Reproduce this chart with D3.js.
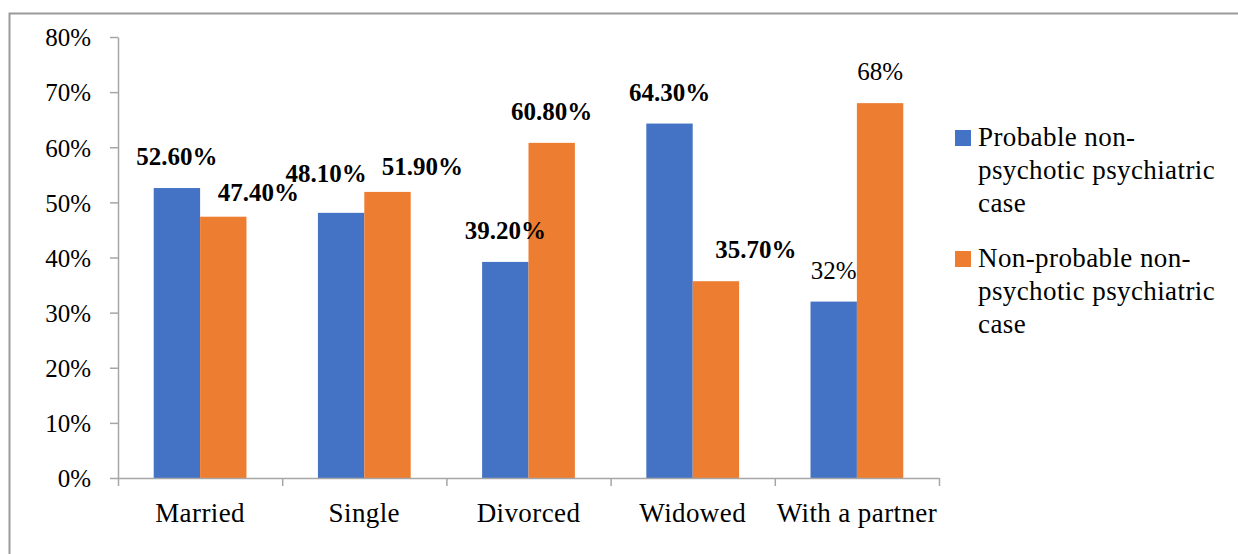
<!DOCTYPE html>
<html>
<head>
<meta charset="utf-8">
<script src="https://cdn.jsdelivr.net/npm/d3@7"></script>
<style>
  body { margin: 0; background: #fff; }
  svg { display: block; }
</style>
</head>
<body>
<script>
// values (percent)
var categories = ["Married", "Single", "Divorced", "Widowed", "With a partner"]
var seriesNames = ["Probable non-psychotic psychiatric case", "Non-probable non-psychotic psychiatric case"]
var probable = [52.6, 48.1, 39.2, 64.3, 32]
var nonProbable = [47.4, 51.9, 60.8, 35.7, 68]
var yTicks = [0, 10, 20, 30, 40, 50, 60, 70, 80]
var legendLines = [["Probable non-", "psychotic psychiatric", "case"],
                   ["Non-probable non-", "psychotic psychiatric", "case"]]

function main() {
  var W = 1238, H = 554
  var colors = ["#4472C4", "#ED7D31"]
  var font = "'Liberation Serif', 'Times New Roman', serif"

  var svg = d3.select("body").append("svg")
              .attr("width", W)
              .attr("height", H)
              .style("font-family", font)

  // outer frame (runs off the right and bottom edge)
  svg.append("rect")
     .attr("x", 9.5).attr("y", 13.5)
     .attr("width", W).attr("height", H)
     .attr("fill", "none")
     .attr("stroke", "#9a9a9a")
     .attr("stroke-width", 2)

  var x0 = 118, x1 = 939, yTop = 37, yBot = 478

  var x = d3.scaleBand().domain(categories).range([x0, x1])
  var xs = d3.scaleBand().domain(seriesNames).range([0, x.bandwidth()])
             .paddingInner(0).paddingOuter(0.77)
  var y = d3.scaleLinear().domain([0, 80]).range([yBot, yTop])

  // bars
  var rows = categories.map(function (c, i) {
    return { cat: c, i: i, vals: [probable[i], nonProbable[i]] }
  })
  var groups = svg.selectAll("g.cat").data(rows).enter()
                  .append("g").attr("class", "cat")
                  .attr("transform", function (d) { return "translate(" + x(d.cat) + ",0)" })

  groups.selectAll("rect").data(function (d) {
      return d.vals.map(function (v, k) { return { v: v, k: k, i: d.i } })
    }).enter().append("rect")
    .attr("x", function (d) { return xs(seriesNames[d.k]) })
    .attr("width", xs.bandwidth())
    .attr("y", function (d) { return y(d.v) })
    .attr("height", function (d) { return y(0) - y(d.v) })
    .attr("fill", function (d) { return colors[d.k] })

  // value labels (a few were dragged aside in the original)
  var nudge = { "0-1": [35, 7], "1-0": [-15, -8], "1-1": [35, 6], "3-1": [40, 0] }
  groups.selectAll("text.val").data(function (d) {
      return d.vals.map(function (v, k) { return { v: v, k: k, i: d.i } })
    }).enter().append("text").attr("class", "val")
    .attr("x", function (d) {
      var n = nudge[d.i + "-" + d.k] || [0, 0]
      return xs(seriesNames[d.k]) + xs.bandwidth() / 2 + n[0]
    })
    .attr("y", function (d) {
      var n = nudge[d.i + "-" + d.k] || [0, 0]
      return y(d.v) - 23 + n[1]
    })
    .attr("text-anchor", "middle")
    .style("font-size", "25px")
    .style("font-weight", function (d) { return d.v % 1 === 0 ? "normal" : "bold" })
    .attr("fill", "#000")
    .text(function (d) { return d.v % 1 === 0 ? d.v + "%" : d.v.toFixed(2) + "%" })

  // y axis
  var yAxis = svg.append("g")
     .attr("transform", "translate(" + x0 + ",0)")
     .call(d3.axisLeft(y).tickValues(yTicks).tickSize(8).tickSizeOuter(0).tickPadding(19)
             .tickFormat(function (d) { return d + "%" }))
  yAxis.selectAll("text").style("font-size", "25px").style("font-family", font)
       .attr("fill", "#000").attr("dy", "0.35em")

  // x axis with ticks on the category boundaries
  var xb = d3.scaleLinear().domain([0, categories.length]).range([x0, x1])
  var xAxis = svg.append("g")
     .attr("transform", "translate(0," + yBot + ")")
     .call(d3.axisBottom(xb).tickValues(d3.range(categories.length + 1))
             .tickSize(8).tickSizeOuter(0).tickFormat(""))

  svg.selectAll(".domain, .tick line").attr("stroke", "#a6a6a6").attr("stroke-width", 1.5)

  svg.append("g").selectAll("text").data(categories).enter()
     .append("text")
     .attr("x", function (d) { return x(d) + x.bandwidth() / 2 })
     .attr("y", 522)
     .attr("text-anchor", "middle")
     .style("font-size", "27px")
     .style("letter-spacing", "0.4px")
     .attr("fill", "#000")
     .text(function (d) { return d })

  // legend
  var leg = svg.append("g").selectAll("g").data(legendLines).enter()
               .append("g")
               .attr("transform", function (d, i) { return "translate(955," + (130 + i * 121) + ")" })
  leg.append("rect").attr("width", 16).attr("height", 16)
     .attr("fill", function (d, i) { return colors[i] })
  leg.each(function (lines) {
    d3.select(this).selectAll("text").data(lines).enter()
      .append("text")
      .attr("x", 23)
      .attr("y", function (d, j) { return 16 + j * 33 })
      .style("font-size", "27px")
      .style("letter-spacing", "0.4px")
      .attr("fill", "#000")
      .text(function (d) { return d })
  })
}

main()
</script>
</body>
</html>
